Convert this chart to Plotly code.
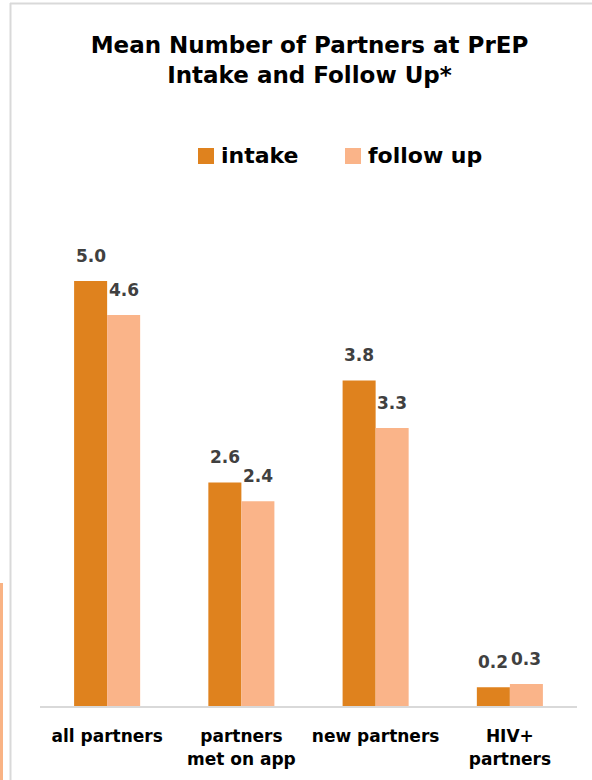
import plotly.graph_objects as go

# ---- data ----
categories = ["all partners", "partners<br>met on app", "new partners", "HIV+<br>partners"]
series_names = ["intake", "follow up"]
intake = [5.0, 2.63, 3.83, 0.22]
follow_up = [4.6, 2.41, 3.27, 0.26]

# ---- styling ----
C_INTAKE = "#DF821E"
C_FOLLOW = "#FAB489"
FONT = "DejaVu Sans"
W, H = 592, 780
ML, MR, MT, MB = 40, 15, 200, 74
PW, PH = W - ML - MR, H - MT - MB
Y_MAX = PH / 85.0
BAR_PX = 33  # approximate pixel width of one bar, for label offsets


def fx(px):
    return (px - ML) / PW


def fy(py):
    return (H - MB - py) / PH


fig = go.Figure()
series = [(series_names[0], intake, C_INTAKE), (series_names[1], follow_up, C_FOLLOW)]
for name, vals, col in series:
    fig.add_trace(go.Bar(
        x=categories, y=vals, name=name,
        marker=dict(color=col, line=dict(width=0)),
        hoverinfo="x+y+name",
    ))

annotations = []
# data labels above each bar
for i, (name, vals, col) in enumerate(series):
    for cat, v in zip(categories, vals):
        annotations.append(dict(
            x=cat, y=v, xref="x", yref="y", text=f"{v:.1f}", showarrow=False,
            xanchor="center", yanchor="bottom", xshift=(i - 0.5) * BAR_PX, yshift=13,
            font=dict(family=FONT, size=17, color="#404040", weight="bold"),
        ))

shapes = [
    # screenshot frame
    dict(type="line", xref="paper", yref="paper", x0=fx(10.5), x1=fx(10.5), y0=fy(3), y1=fy(781),
         line=dict(color="#D9D9D9", width=2)),
    dict(type="line", xref="paper", yref="paper", x0=fx(10), x1=fx(593), y0=fy(3.5), y1=fy(3.5),
         line=dict(color="#D9D9D9", width=2)),
    dict(type="rect", xref="paper", yref="paper", x0=fx(-1), x1=fx(3), y0=fy(583), y1=fy(781),
         fillcolor="#F9B384", line=dict(width=0)),
    # legend swatches
    dict(type="rect", xref="paper", yref="paper", x0=fx(198), x1=fx(214), y0=fy(164), y1=fy(148),
         fillcolor=C_INTAKE, line=dict(width=0)),
    dict(type="rect", xref="paper", yref="paper", x0=fx(345), x1=fx(361), y0=fy(164), y1=fy(148),
         fillcolor=C_FOLLOW, line=dict(width=0)),
]

annotations += [
    dict(text=series_names[0], xref="paper", yref="paper", x=fx(219), y=fy(155), xanchor="left", yanchor="middle",
         showarrow=False, font=dict(family=FONT, size=22, color="black", weight="bold")),
    dict(text=series_names[1], xref="paper", yref="paper", x=fx(366), y=fy(155), xanchor="left", yanchor="middle",
         showarrow=False, font=dict(family=FONT, size=22, color="black", weight="bold")),
]

fig.update_layout(
    width=W, height=H,
    margin=dict(l=ML, r=MR, t=MT, b=MB),
    paper_bgcolor="white", plot_bgcolor="white",
    barmode="group", bargap=0.508, bargroupgap=0,
    showlegend=False,
    title=dict(text="Mean Number of Partners at PrEP<br>Intake and Follow Up*",
               x=309.5 / W, xanchor="center", xref="container",
               y=1 - 53 / H, yanchor="middle", yref="container",
               font=dict(family=FONT, size=23, color="black", weight="bold")),
    xaxis=dict(showline=True, linecolor="#D9D9D9", linewidth=2, ticks="", showgrid=False,
               tickfont=dict(family=FONT, size=17, color="black", weight="bold"),
               ticklabelstandoff=14),
    yaxis=dict(range=[0, Y_MAX], visible=False, showgrid=False, zeroline=False),
    shapes=shapes, annotations=annotations,
    font=dict(family=FONT),
)

fig.write_html("out.html", config={"displayModeBar": False},
               post_script="document.body.style.margin='0';document.body.style.overflow='hidden';")
